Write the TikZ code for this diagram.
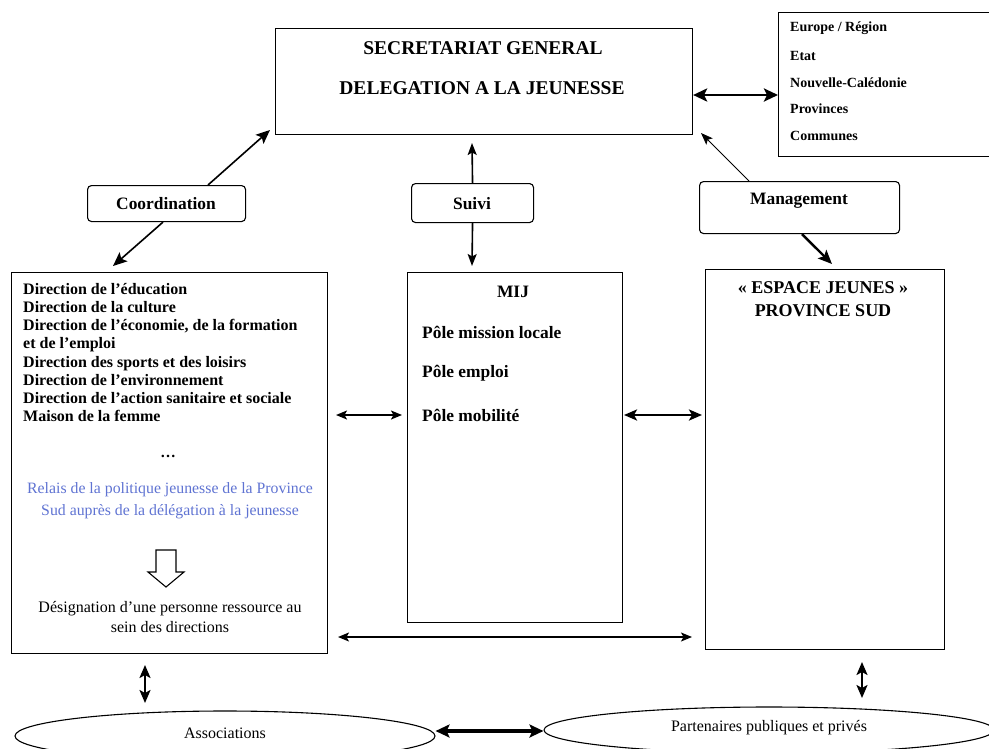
\documentclass[tikz,border=0pt]{standalone}
\usepackage{fontspec}
\setmainfont{Liberation Serif}
\usetikzlibrary{shapes.geometric,arrows.meta,calc}
\definecolor{relais}{RGB}{95,115,210}
\begin{document}
\begin{tikzpicture}[x=1pt,y=-1pt,
  box/.style={draw, line width=1.1pt, inner sep=0pt, anchor=north west},
  lbl/.style={draw, line width=1.1pt, rounded corners=4pt, inner sep=0pt, anchor=north west},
  bigtxt/.style={font=\fontsize{19.5}{21}\bfseries\selectfont, inner sep=0pt},
  midtxt/.style={font=\fontsize{17.4}{19}\bfseries\selectfont, inner sep=0pt},
  smalltxt/.style={font=\fontsize{14}{16}\bfseries\selectfont, inner sep=0pt, anchor=west},
  regtxt/.style={font=\fontsize{16}{20}\selectfont, inner sep=0pt},
  dblA/.style={{Stealth[length=14pt,width=13pt,inset=3pt]}-{Stealth[length=14pt,width=13pt,inset=3pt]}},
  dblB/.style={{Stealth[length=13pt,width=11pt,inset=3pt]}-{Stealth[length=13pt,width=11pt,inset=3pt]}},
  dblC/.style={{Stealth[length=11pt,width=9pt,inset=2.5pt]}-{Stealth[length=11pt,width=9pt,inset=2.5pt]}},
  endB/.style={-{Stealth[length=14pt,width=12pt,inset=3pt]}},
  endC/.style={-{Stealth[length=12pt,width=9pt,inset=2.5pt]}},
  conn/.style={line width=1.6pt},
]
\useasboundingbox (0,0) rectangle (989,748);

% ---------- boxes ----------
\node[box, minimum width=417pt, minimum height=106pt] (sg) at (275,28) {};
\node[box, minimum width=220pt, minimum height=144pt] (ext) at (778,12) {};
\node[lbl, minimum width=158pt, minimum height=36pt] (coord) at (87,185) {};
\node[lbl, minimum width=122pt, minimum height=39pt] (suivi) at (411,183) {};
\node[lbl, minimum width=200pt, minimum height=52pt] (mgmt) at (699,181) {};
\node[box, minimum width=316pt, minimum height=381pt] (left) at (11,272) {};
\node[box, minimum width=215pt, minimum height=350pt] (mij) at (407,272) {};
\node[box, minimum width=239pt, minimum height=380pt] (ej) at (705,269) {};
\node[draw, line width=1.1pt, ellipse, minimum width=420pt, minimum height=50pt, inner sep=0pt] (assoc) at (225,736) {};
\node[draw, line width=1.1pt, ellipse, minimum width=450pt, minimum height=46pt, inner sep=0pt] (part) at (769,730) {};

% ---------- texts ----------
\node[bigtxt] (sg1) at (483,48) {SECRETARIAT GENERAL};
\node[bigtxt] (sg2) at (482,88) {DELEGATION A LA JEUNESSE};

\node[smalltxt] (e1) at (790,28) {Europe / Région};
\node[smalltxt] (e2) at (790,56) {Etat};
\node[smalltxt] (e3) at (790,83) {Nouvelle-Calédonie};
\node[smalltxt] (e4) at (790,109) {Provinces};
\node[smalltxt] (e5) at (790,136) {Communes};

\node[midtxt] (coordt) at (166,204) {Coordination};
\node[midtxt] (suivit) at (472,204) {Suivi};
\node[midtxt] (mgmtt) at (799,201) {Management};

\node[inner sep=0pt, anchor=north west, align=left,
  font=\fontsize{16}{18.2}\bfseries\selectfont] (list) at (23,283)
  {Direction de l’éducation\\
   Direction de la culture\\
   Direction de l’économie, de la formation\\
   et de l’emploi\\
   Direction des sports et des loisirs\\
   Direction de l’environnement\\
   Direction de l’action sanitaire et sociale\\
   Maison de la femme};
\node[font=\fontsize{15.5}{18}\bfseries\selectfont, inner sep=0pt] (dots) at (168,456) {…};
\node[text=relais, align=center, inner sep=0pt, font=\fontsize{15.8}{22}\selectfont] (relais) at (170,501)
  {Relais de la politique jeunesse de la Province\\Sud auprès de la délégation à la jeunesse};
\draw[line width=1.1pt] (156,550) -- (176,550) -- (176,572) -- (184,572) -- (166,587)
  -- (148,572) -- (156,572) -- cycle;
\node[align=center, inner sep=0pt, font=\fontsize{16}{20}\selectfont] (desig) at (170,617)
  {Désignation d’une personne ressource au\\sein des directions};

\node[midtxt] (mijt) at (513,292) {MIJ};
\node[midtxt, anchor=west] (p1) at (422,332) {Pôle mission locale};
\node[midtxt, anchor=west] (p2) at (422,373) {Pôle emploi};
\node[midtxt, anchor=west] (p3) at (422,415) {Pôle mobilité};

\node[align=center, inner sep=0pt, font=\fontsize{18}{23}\bfseries\selectfont] (ejt) at (823,299)
  {« ESPACE JEUNES »\\PROVINCE SUD};

\node[regtxt] (assoct) at (225,733) {Associations};
\node[regtxt] (partt) at (769,728) {Partenaires publiques et privés};

% ---------- connectors ----------
\coordinate (sgE) at (sg.east |- 0,95);
\coordinate (extW) at (ext.west |- 0,95);
\draw[line width=2.8pt, dblA] (sgE) -- (extW);

\coordinate (coordN) at (coord.north -| 208,0);
\coordinate (sgSW) at (270,130);
\draw[conn, endB] (coordN) -- (sgSW);
\coordinate (coordS) at (coord.south -| 163,0);
\coordinate (leftNW) at (113,266);
\draw[conn, endB] (coordS) -- (leftNW);

\coordinate (sgS) at (472,143);
\draw[conn, endC] (suivi.north) -- (sgS);
\coordinate (mijN) at (472,266);
\draw[conn, endC] (suivi.south) -- (mijN);

\coordinate (mgmtN) at (mgmt.north -| 749,0);
\coordinate (sgSE) at (701,133);
\draw[line width=0.8pt, endC] (mgmtN) -- (sgSE);
\coordinate (mgmtS) at (mgmt.south -| 802,0);
\coordinate (ejN) at (832,264);
\draw[line width=2.4pt, endB] (mgmtS) -- (ejN);

\coordinate (lm1) at (336,415);
\coordinate (lm2) at (402,415);
\draw[conn, dblC] (lm1) -- (lm2);
\coordinate (me1) at (624,415);
\coordinate (me2) at (702,415);
\draw[line width=2.6pt, dblB] (me1) -- (me2);
\coordinate (le1) at (338,637);
\coordinate (le2) at (692,637);
\draw[line width=1.3pt, dblC] (le1) -- (le2);

\coordinate (la1) at (145,665);
\coordinate (la2) at (145,703);
\draw[line width=2.2pt, dblB] (la1) -- (la2);
\coordinate (ep1) at (862,662);
\coordinate (ep2) at (862,698);
\draw[line width=2.2pt, dblB] (ep1) -- (ep2);

\coordinate (ap1) at (assoc.east |- 0,731);
\coordinate (ap2) at (part.west |- 0,731);
\draw[line width=4pt, dblA] (ap1) -- (ap2);
\end{tikzpicture}
\end{document}
